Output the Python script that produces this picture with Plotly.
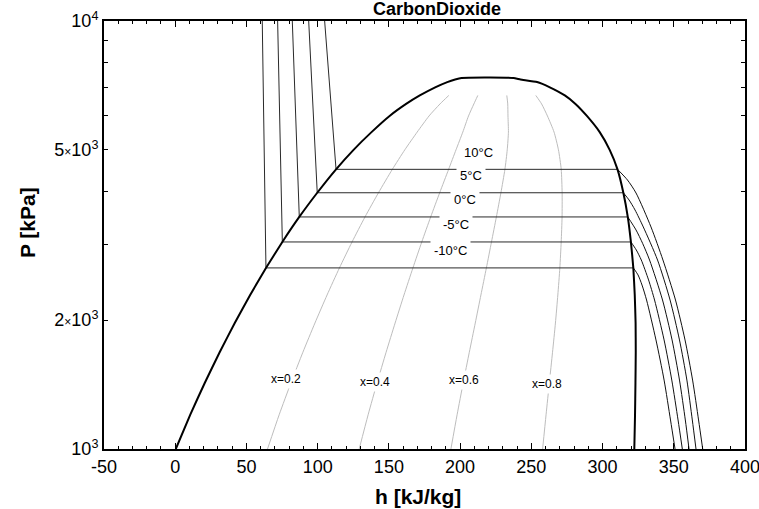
import plotly.graph_objects as go
import numpy as np

# ---------------- data ----------------
# saturation dome: pressure [kPa], saturated liquid / vapour enthalpy [kJ/kg]
P_sat = [1000, 1202, 1428, 1683, 1969, 2290, 2649, 3046, 3485, 3969, 4502,
         5000, 5500, 6000, 6400, 6700, 7000, 7200, 7300, 7360, 7377]
h_liq = [0.4, 10.5, 20.8, 31.2, 41.8, 52.6, 63.7, 75.2, 87.1, 99.7, 112.9,
         125.2, 137.8, 150.5, 162.1, 171.7, 182.5, 191.0, 196.5, 201.0, 217.0]
h_vap = [322.3, 322.8, 323.1, 323.3, 323.2, 322.6, 321.6, 319.9, 317.7, 314.6, 310.5,
         305.0, 298.0, 289.0, 281.0, 273.5, 263.0, 254.0, 242.4, 237.5, 217.0]

# qualities
qualities = [0.2, 0.4, 0.6, 0.8]
q_P_max = 6700
q_label_h = [77.6, 140.5, 202.7, 261.2]
q_label_P = [1457, 1432, 1450, 1419]

# isotherms
T_iso = [-10, -5, 0, 5, 10]
P_iso = [2649, 3046, 3485, 3969, 4502]
h_iso_liq_sat = [63.7, 75.2, 87.1, 99.7, 112.9]
h_iso_vap_sat = [321.6, 319.9, 317.7, 314.6, 310.5]
P_top = 10000
h_iso_liq_top = [61.1, 71.9, 82.2, 93.7, 104.9]
# superheated vapour branches
P_iso_vap = [
    [2649, 2551, 2416, 2229, 1798, 1449, 1169, 1000],
    [3046, 2917, 2764, 2483, 2229, 1798, 1449, 1169, 1000],
    [3485, 3249, 3024, 2764, 2229, 1798, 1449, 1169, 1000],
    [3969, 3818, 3618, 3302, 2764, 2229, 1798, 1449, 1169, 1000],
    [4502, 4251, 3964, 3302, 2764, 2229, 1798, 1449, 1169, 1000],
]
h_iso_vap = [
    [321.6, 324.9, 327.7, 330.9, 337.5, 343.2, 347.7, 350.9],
    [319.9, 323.7, 327.2, 332.3, 336.5, 343.2, 348.6, 353.0, 356.0],
    [317.7, 323.5, 328.1, 333.0, 342.1, 348.8, 354.0, 358.1, 360.7],
    [314.6, 318.6, 322.8, 328.6, 338.6, 347.4, 354.0, 359.2, 363.0, 365.6],
    [310.5, 317.5, 323.5, 334.0, 342.4, 351.2, 357.9, 363.2, 367.4, 370.3],
]
T_label_h = [193.4, 196.9, 203.4, 207.4, 213.1]

x_ticks = [-50, 0, 50, 100, 150, 200, 250, 300, 350, 400]
x_ticktext = ["-50", "0", "50", "100", "150", "200", "250", "300", "350", "400"]
y_ticks = [1000, 2000, 5000, 10000]
y_ticktext = ["10<sup>3</sup>",
              "2<span style='font-size:12px'>×</span>10<sup>3</sup>",
              "5<span style='font-size:12px'>×</span>10<sup>3</sup>",
              "10<sup>4</sup>"]
y_minor = [3000, 4000, 6000, 7000, 8000, 9000]

FONT = "Liberation Sans, Arial, sans-serif"

fig = go.Figure()

# quality lines
hl = np.array(h_liq); hv = np.array(h_vap); ps = np.array(P_sat)
mask = ps <= q_P_max
for q in qualities:
    fig.add_trace(go.Scatter(x=hl[mask] + q * (hv[mask] - hl[mask]), y=ps[mask],
                             mode="lines", line=dict(color="#bdbdbd", width=1,
                                                     shape="spline", smoothing=0.6),
                             hoverinfo="skip"))

# isotherms
for i in range(len(T_iso)):
    fig.add_trace(go.Scatter(
        x=[h_iso_liq_top[i], h_iso_liq_sat[i], h_iso_vap_sat[i]],
        y=[P_top, P_iso[i], P_iso[i]],
        mode="lines", line=dict(color="#2a2a2a", width=1), hoverinfo="skip"))
    fig.add_trace(go.Scatter(
        x=h_iso_vap[i], y=P_iso_vap[i], mode="lines",
        line=dict(color="#111", width=1, shape="spline", smoothing=0.7),
        hoverinfo="skip"))

# dome
dome_h = list(h_liq) + list(h_vap[::-1][1:])
dome_P = list(P_sat) + list(P_sat[::-1][1:])
fig.add_trace(go.Scatter(x=dome_h, y=dome_P, mode="lines",
                         line=dict(color="black", width=2, shape="spline", smoothing=0.4),
                         hoverinfo="skip"))

annotations = []
for i, T in enumerate(T_iso):
    annotations.append(dict(x=T_label_h[i], y=np.log10(P_iso[i]), xref="x", yref="y",
                            text=f"{T}°C", showarrow=False, yshift=17,
                            font=dict(family=FONT, size=13, color="black"),
                            bgcolor="white", borderpad=3))
for i, q in enumerate(qualities):
    annotations.append(dict(x=q_label_h[i], y=np.log10(q_label_P[i]), xref="x", yref="y",
                            text=f"x={q}", showarrow=False,
                            font=dict(family=FONT, size=12, color="black"),
                            bgcolor="white", borderpad=2))

annotations += [
    dict(x=0.519, y=1.028, xref="paper", yref="paper", text="<b>CarbonDioxide</b>",
         showarrow=False, xanchor="center", yanchor="middle",
         font=dict(family=FONT, size=18, color="black")),
    dict(x=0.490, y=-0.112, xref="paper", yref="paper", text="<b>h [kJ/kg]</b>",
         showarrow=False, xanchor="center", yanchor="middle",
         font=dict(family=FONT, size=21, color="black")),
    dict(x=-0.120, y=0.528, xref="paper", yref="paper", text="<b>P [kPa]</b>",
         showarrow=False, textangle=-90, xanchor="center", yanchor="middle",
         font=dict(family=FONT, size=21, color="black")),
]

fig.update_layout(
    width=759, height=509, showlegend=False,
    margin=dict(l=104, r=14, t=21, b=60, autoexpand=False),
    paper_bgcolor="white", plot_bgcolor="white",
    annotations=annotations,
    xaxis=dict(range=[-50, 400], tickvals=x_ticks, ticktext=x_ticktext,
               ticks="inside", ticklen=6, ticklabeloverflow="allow", automargin=False,
               tickcolor="black", tickwidth=1, showline=True, linewidth=2,
               linecolor="black", mirror="ticks", showgrid=False, zeroline=False,
               tickfont=dict(family=FONT, size=18, color="black"),
               minor=dict(dtick=10, tick0=0, ticks="inside", ticklen=3,
                          tickcolor="black", showgrid=False)),
    yaxis=dict(type="log", range=[3, 4], tickvals=y_ticks, ticktext=y_ticktext,
               ticks="inside", ticklen=4, tickcolor="black", showline=True,
               ticklabeloverflow="allow", automargin=False,
               linewidth=2, linecolor="black", mirror="ticks", showgrid=False,
               zeroline=False, tickfont=dict(family=FONT, size=18, color="black"),
               minor=dict(tickvals=y_minor, ticks="inside", ticklen=4,
                          tickcolor="black", showgrid=False)),
)

fig.write_html("out.html")
